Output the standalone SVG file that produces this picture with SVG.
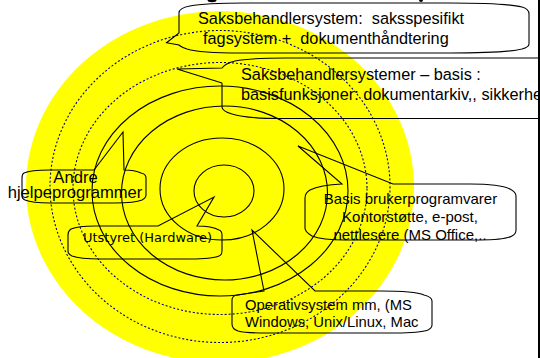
<svg xmlns="http://www.w3.org/2000/svg" width="540" height="358" viewBox="0 0 540 358">
<style>
text{font-family:"Liberation Sans",Arial,sans-serif;font-size:15px;fill:#000;white-space:pre}
.ring{fill:none;stroke:#000;stroke-width:1.1}
.dot{fill:none;stroke:#000080;stroke-width:1.1;stroke-dasharray:2 2}
.call{fill:none;stroke:#000;stroke-width:1.1}
.c{text-anchor:middle}
.big{font-size:16.300px}
.mid{font-size:16.600px}
.op{font-size:14.800px}
.hw{font-family:"DejaVu Sans",sans-serif;font-size:13px}
</style>
<rect width="540" height="358" fill="#fff"/>
<g id="rings">
<ellipse cx="220" cy="187" rx="194" ry="176" fill="#ff0"/>
<ellipse class="dot" cx="220" cy="186.5" rx="170" ry="156"/>
<ellipse class="dot" cx="220" cy="188.5" rx="147" ry="126"/>
<ellipse class="ring" cx="220" cy="191" rx="128" ry="105"/>
<ellipse class="ring" cx="224.5" cy="193" rx="103" ry="87"/>
<ellipse class="ring" cx="222" cy="189" rx="62" ry="51"/>
<ellipse class="ring" cx="224" cy="191" rx="30" ry="26"/>
</g>
<g id="title-remains">
<ellipse cx="212" cy="0" rx="4.5" ry="2.2"/>
<ellipse cx="421" cy="0" rx="2" ry="2"/>
<rect x="538" y="0" width="2" height="358"/>
</g>
<g id="saksbehandlersystem">
<path class="call" d="M179 33V13Q179 8 190 6Q205 3 245 3H450Q505 3 522 7Q529 9 529 14V44Q529 47 522 49Q505 53 450 53H240Q200 53 187 49Q181 47 179 45L166.500 42.700Z"/>
<text class="big" x="198" y="24">Saksbehandlersystem:  saksspesifikt</text>
<text class="big" x="203" y="44">fagsystem +  dokumenthåndtering</text>
</g>
<g id="saksbehandlersystemer-basis">
<path class="call" d="M222 83V107Q222 111 232 114Q246 118.500 280 118.500H540M540 58H285Q250 58 235 61Q226 63 222 68L177 69L222 83"/>
<text class="big" x="241" y="80">Saksbehandlersystemer – basis :</text>
<text class="big" x="241" y="100">basisfunksjoner: dokumentarkiv,, sikkerhet</text>
</g>
<g id="andre-hjelpeprogrammer">
<path class="call" d="M94 170H50Q30 170 24 173Q22 174 22 178V196Q22 199 25 200Q32 203 50 203H115Q135 203 142 200Q146 198 146 195V178Q146 174 141 173Q135 170 124 170L123 132Z"/>
<text class="c mid" x="75.500" y="183">Andre</text>
<text class="c mid" x="75" y="198">hjelpeprogrammer</text>
</g>
<g id="utstyret">
<path class="call" d="M158 226H95Q78 226 71 229Q68 231 68 235V251Q68 254 72 256Q80 259 100 259H190Q212 259 219 256Q222 255 222 251V235Q222 231 219 230Q212 226 197 226L214 197Z"/>
<text class="hw" x="83" y="242" textLength="129" lengthAdjust="spacingAndGlyphs">Utstyret (Hardware)</text>
</g>
<g id="basis-brukerprogramvarer">
<path class="call" d="M342 184Q320 185 310 190Q305 193 305 198V228Q305 232 312 236Q322 240 345 240H480Q505 240 512 236Q516 234 516 230V196Q516 192 510 189Q500 184 470 184H393L298 146Z"/>
<text class="c" x="410.500" y="204">Basis brukerprogramvarer</text>
<text class="c" x="410" y="222">Kontorstøtte, e-post,</text>
<text class="c" x="410" y="240">nettlesere (MS Office,..</text>
</g>
<g id="operativsystem">
<path class="call" d="M264 291L237 295Q232 296 232 300V324Q232 329 238 331Q245 333 265 333H395Q420 333 428 330Q432 328 432 325V301Q432 297 424 295Q415 291 380 291H315L252 230Z"/>
<text class="op" x="245" y="310">Operativsystem mm, (MS</text>
<text class="op" x="245" y="327">Windows, Unix/Linux, Mac</text>
</g>
</svg>
